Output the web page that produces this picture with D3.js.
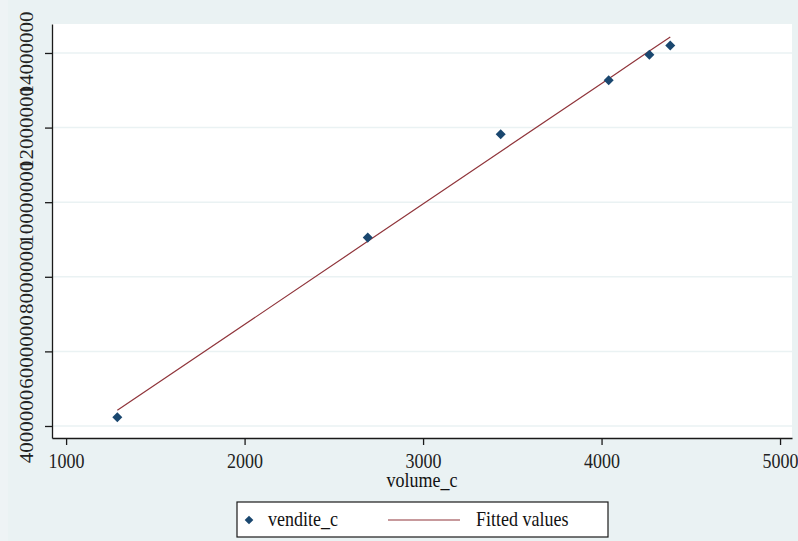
<!DOCTYPE html>
<html>
<head>
<meta charset="utf-8">
<script src="https://cdn.jsdelivr.net/npm/d3@7"></script>
<style>
  body { margin: 0; background: #eef3f5; }
  svg { display: block; }
</style>
</head>
<body>
<div id="chart"></div>
<script>
// data
var volume = [1287, 2690, 3435, 4040, 4268, 4385];
var vendite = [4233000, 9050000, 11820000, 13270000, 13950000, 14200000];
var fitted = [4420000, 8950000, 11360000, 13310000, 14050000, 14430000];
var xTicks = [1000, 2000, 3000, 4000, 5000];
var yTicks = [4000000, 6000000, 8000000, 10000000, 12000000, 14000000];

var svgWidth = 798;
var svgHeight = 541;
var plot = { left: 52, right: 792, top: 24, bottom: 438 };

var svg = d3.select("#chart")
    .append("svg")
    .attr("width", svgWidth)
    .attr("height", svgHeight);

// graph region
svg.append("rect")
    .attr("x", 8).attr("y", 0)
    .attr("width", svgWidth - 8).attr("height", svgHeight)
    .attr("fill", "#eaf2f3");

// plot region
svg.append("rect")
    .attr("x", plot.left).attr("y", plot.top)
    .attr("width", plot.right - plot.left).attr("height", plot.bottom - plot.top)
    .attr("fill", "#ffffff");

var x = d3.scaleLinear().domain([921, 5067]).range([plot.left, plot.right]);
var y = d3.scaleLinear().domain([3678000, 14777000]).range([plot.bottom, plot.top]);

// grid
svg.append("g")
    .selectAll("line")
    .data(yTicks)
    .enter()
    .append("line")
    .attr("x1", plot.left).attr("x2", plot.right)
    .attr("y1", d => y(d)).attr("y2", d => y(d))
    .attr("stroke", "#eaf2f3")
    .attr("stroke-width", 1.5);

// axes
var bottomAxis = d3.axisBottom(x).tickValues(xTicks).tickSize(7).tickSizeOuter(0).tickFormat(d3.format("d"));
var leftAxis = d3.axisLeft(y).tickValues(yTicks).tickSize(7).tickSizeOuter(0).tickFormat(d3.format("d"));

var xg = svg.append("g")
    .attr("transform", `translate(0, ${plot.bottom})`)
    .call(bottomAxis);

var yg = svg.append("g")
    .attr("transform", `translate(${plot.left}, 0)`)
    .call(leftAxis);

[xg, yg].forEach(function(g) {
    g.select(".domain").attr("stroke", "#1a1a1a").attr("stroke-width", 1.3);
    g.selectAll(".tick line").attr("stroke", "#1a1a1a").attr("stroke-width", 1.3);
    g.selectAll("text")
        .attr("font-family", "Liberation Serif, Times New Roman, serif")
        .attr("fill", "#222");
});

xg.selectAll("text")
    .attr("y", 0).attr("dy", 0)
    .attr("font-size", 18)
    .attr("text-anchor", "middle")
    .attr("transform", "translate(0,30) scale(1,1.15)");

yg.selectAll("text")
    .attr("x", 0).attr("y", 0).attr("dy", 0)
    .attr("font-size", 21)
    .attr("text-anchor", "middle")
    .attr("transform", "translate(-19,0) rotate(-90) scale(1,0.86)");

// axis title
svg.append("text")
    .attr("transform", `translate(${(plot.left + plot.right) / 2}, 487) scale(1,1.15)`)
    .attr("text-anchor", "middle")
    .attr("font-family", "Liberation Serif, Times New Roman, serif")
    .attr("font-size", 18)
    .attr("fill", "#111")
    .text("volume_c");

// fitted line
var line = d3.line()
    .x((d, i) => x(volume[i]))
    .y(d => y(d));

svg.append("path")
    .datum(fitted)
    .attr("d", line)
    .attr("fill", "none")
    .attr("stroke", "#90353b")
    .attr("stroke-width", 1.2);

// points
var diamond = d3.symbol().type(d3.symbolDiamond2).size(64);

svg.append("g")
    .selectAll("path")
    .data(vendite)
    .enter()
    .append("path")
    .attr("d", diamond)
    .attr("transform", (d, i) => `translate(${x(volume[i])}, ${y(d)})`)
    .attr("fill", "#1a476f");

// legend
var legend = svg.append("g");
legend.append("rect")
    .attr("x", 237).attr("y", 502)
    .attr("width", 371).attr("height", 35)
    .attr("fill", "#ffffff")
    .attr("stroke", "#1a1a1a")
    .attr("stroke-width", 1.2);

legend.append("path")
    .attr("d", d3.symbol().type(d3.symbolDiamond2).size(48))
    .attr("transform", "translate(249, 520)")
    .attr("fill", "#1a476f");

legend.append("line")
    .attr("x1", 388).attr("x2", 460)
    .attr("y1", 520).attr("y2", 520)
    .attr("stroke", "#90353b")
    .attr("stroke-width", 1.2);

legend.selectAll("text")
    .data([["vendite_c", 268], ["Fitted values", 476]])
    .enter()
    .append("text")
    .attr("transform", d => `translate(${d[1]}, 526) scale(1,1.15)`)
    .attr("font-family", "Liberation Serif, Times New Roman, serif")
    .attr("font-size", 18)
    .attr("fill", "#111")
    .text(d => d[0]);
</script>
</body>
</html>
